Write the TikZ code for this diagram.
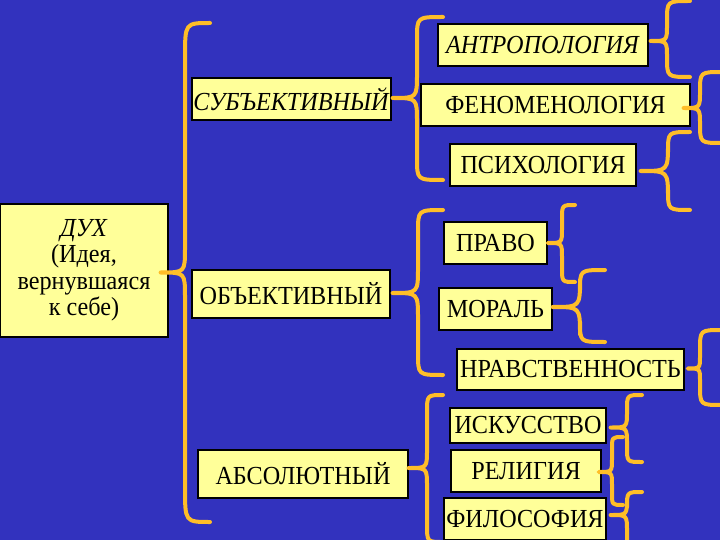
\documentclass[tikz,border=0pt]{standalone}
\usepackage{fontspec}
\setmainfont{Liberation Serif}[FakeStretch=0.93]
\usetikzlibrary{calc}
\definecolor{bgblue}{RGB}{50,50,190}
\definecolor{boxyellow}{RGB}{255,255,153}
\definecolor{braceorange}{RGB}{255,190,40}
\tikzset{
  box/.style={draw=black, line width=1.2pt, fill=boxyellow, inner sep=0pt,
    font=\fontsize{26}{26.5}\selectfont, anchor=center, align=center},
  bracepath/.style={draw=braceorange, line width=4pt, line cap=round, line join=round}
}
% #1 name, #2 x, #3 y, #4 width, #5 height, #6 text
\newcommand\bx[6]{\node[box, minimum width=#4pt, minimum height=#5pt] (#1) at (#2,#3) {#6};}
% #1 cusp, #2 vertical x, #3 end x, #4 top y, #5 bottom y, #6 curl radius
\newcommand\brc[6]{%
  \draw[bracepath] let \p1=(#1) in
    (#3pt,-#4pt) .. controls (#2pt,-#4pt) .. (#2pt,-#4pt-#6pt)
    -- (#2pt,\y1+#2pt-\x1) .. controls (#2pt,\y1) .. (\p1)
    .. controls (#2pt,\y1) .. (#2pt,\y1-#2pt+\x1)
    -- (#2pt,-#5pt+#6pt) .. controls (#2pt,-#5pt) .. (#3pt,-#5pt);}
\begin{document}
\begin{tikzpicture}[x=1pt,y=-1pt]
\useasboundingbox (0,0) rectangle (720,540);
\clip (0,0) rectangle (720,540);
\fill[bgblue] (0,0) rectangle (720,540);

\bx{dukh}{84}{270.5}{168}{133}{\textit{ДУХ}\\(Идея,\\вернувшаяся\\к себе)}
\bx{subj}{291.5}{99}{199}{42}{\textit{СУБЪЕКТИВНЫЙ}}
\bx{antr}{543}{45}{210}{42}{\textit{АНТРОПОЛОГИЯ}}
\bx{fenom}{555.5}{105}{269}{42}{ФЕНОМЕНОЛОГИЯ}
\bx{psych}{543}{165}{186}{42}{ПСИХОЛОГИЯ}
\bx{obj}{291}{294}{198}{48}{ОБЪЕКТИВНЫЙ}
\bx{pravo}{495.5}{243}{103}{42}{ПРАВО}
\bx{moral}{495.5}{309}{113}{42}{МОРАЛЬ}
\bx{nravst}{570.5}{369.5}{227}{41}{НРАВСТВЕННОСТЬ}
\bx{abs}{303}{474}{210}{48}{АБСОЛЮТНЫЙ}
\bx{isk}{528}{425.5}{156}{35}{ИСКУССТВО}
\bx{relig}{526}{471}{150}{42}{РЕЛИГИЯ}
\bx{filos}{525}{519}{162}{42}{ФИЛОСОФИЯ}

\brc{[xshift=-8pt,yshift=-2pt]dukh.east}{185}{210}{23}{522}{35}
\brc{[xshift=1pt,yshift=1pt]subj.east}{417}{443}{17}{180}{22}
\brc{[xshift=2pt,yshift=4pt]antr.east}{667}{690}{1}{77}{20}
\brc{[xshift=-7pt,yshift=-3pt]fenom.east}{700}{722}{72}{143}{20}
\brc{[xshift=4pt,yshift=-6pt]psych.east}{668}{690}{132}{210}{20}
\brc{[xshift=2pt,yshift=1pt]obj.east}{418}{443}{210}{375}{22}
\brc{pravo.east}{562}{575}{205}{282}{14}
\brc{[yshift=2pt]moral.east}{580}{605}{270}{342}{20}
\brc{[xshift=3pt,yshift=1pt]nravst.east}{700}{722}{330}{405}{20}
\brc{[yshift=6pt]abs.east}{427}{443}{395}{542}{18}
\brc{[xshift=4pt,yshift=-2pt]isk.east}{627}{642}{395}{462}{15}
\brc{[xshift=-3pt,yshift=-1pt]relig.east}{612}{623}{437}{505}{12}
\brc{[xshift=4pt,yshift=4pt]filos.east}{627}{642}{492}{560}{15}
\end{tikzpicture}
\end{document}
